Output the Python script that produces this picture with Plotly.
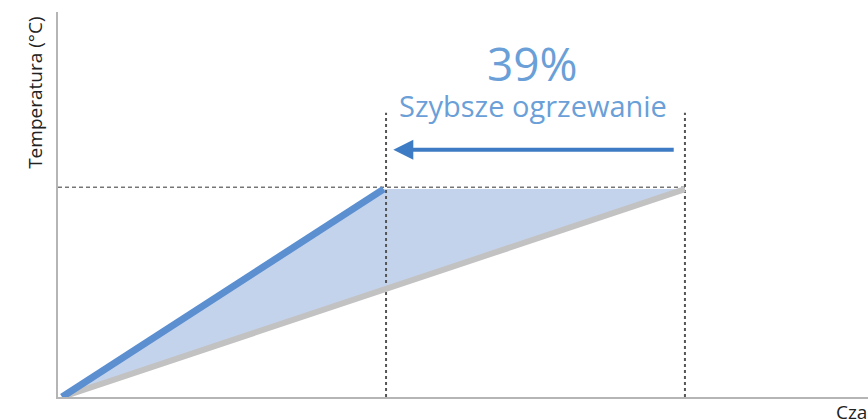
import plotly.graph_objects as go

# Data (x = time units 0..100, y = temperature units 0..100)
fast_time = [0.5, 40.2]        # "Szybsze ogrzewanie" (blue)
fast_temp = [0.0, 54.0]
slow_time = [0.5, 77.4]        # reference heating (gray)
slow_temp = [0.0, 54.0]
target_temp = 54.5
marker_times = [40.5, 77.4]
marker_top = 73.8
arrow_start = 76.2
arrow_end = 41.4
arrow_level = 64.2
label_pct = "39%"
label_text = "Szybsze ogrzewanie"
y_title = "Temperatura (°C)"
x_title = "Czas"

fig = go.Figure()

# shaded triangle between the lines
fig.add_trace(go.Scatter(
    x=[fast_time[0], fast_time[1], slow_time[1], fast_time[0]],
    y=[fast_temp[0], fast_temp[1], slow_temp[1], fast_temp[0]],
    fill="toself", fillcolor="#c4d3ec", line=dict(width=0),
    mode="lines", hoverinfo="skip", showlegend=False))

# dashed target line
fig.add_trace(go.Scatter(
    x=[0, slow_time[1]], y=[target_temp, target_temp], mode="lines",
    line=dict(color="#333333", width=1, dash="4px,3px"), showlegend=False))

# dotted verticals
for t in marker_times:
    fig.add_trace(go.Scatter(
        x=[t, t], y=[0, marker_top], mode="lines",
        line=dict(color="#555555", width=2, dash="dot"), showlegend=False))

# gray line
fig.add_trace(go.Scatter(
    x=slow_time, y=slow_temp, mode="lines",
    line=dict(color="#c2c2c2", width=6), showlegend=False))

# blue line
fig.add_trace(go.Scatter(
    x=fast_time, y=fast_temp, mode="lines",
    line=dict(color="#5b8fd0", width=7), showlegend=False))

# arrow
fig.add_annotation(
    x=arrow_end, y=arrow_level, ax=arrow_start, ay=arrow_level,
    xref="x", yref="y", axref="x", ayref="y",
    showarrow=True, arrowhead=2, arrowsize=1.0, arrowwidth=4,
    arrowcolor="#3d7cc4", text="")

fig.add_annotation(x=58.6, y=86.8, xref="x", yref="y", text=label_pct,
                   showarrow=False, font=dict(size=46, color="#6a9fd8", family="Open Sans"))
fig.add_annotation(x=58.6, y=75.6, xref="x", yref="y", text=label_text,
                   showarrow=False, font=dict(size=29, color="#6a9fd8", family="Open Sans"))

fig.add_annotation(x=-0.0284, y=0.79, xref="paper", yref="paper", text=y_title,
                   xanchor="center", yanchor="middle",
                   textangle=-90, showarrow=False,
                   font=dict(size=19, color="#222222", family="Open Sans"))
fig.add_annotation(x=0.958, y=-0.039, xref="paper", yref="paper", text=x_title,
                   xanchor="left", yanchor="middle", showarrow=False,
                   font=dict(size=19, color="#222222", family="Open Sans"))

fig.update_xaxes(range=[0, 100], showgrid=False, zeroline=False, showticklabels=False,
                 ticks="", showline=True, linecolor="#b5b5b5", linewidth=2)
fig.update_yaxes(range=[0, 100], showgrid=False, zeroline=False, showticklabels=False,
                 ticks="", showline=True, linecolor="#b5b5b5", linewidth=2)

fig.update_layout(width=868, height=419, margin=dict(l=58, r=0, t=12, b=22),
                  paper_bgcolor="white", plot_bgcolor="white")

fig.write_html("out.html", config={"displayModeBar": False},
               post_script="document.body.style.margin='0';document.body.style.overflow='hidden';")
